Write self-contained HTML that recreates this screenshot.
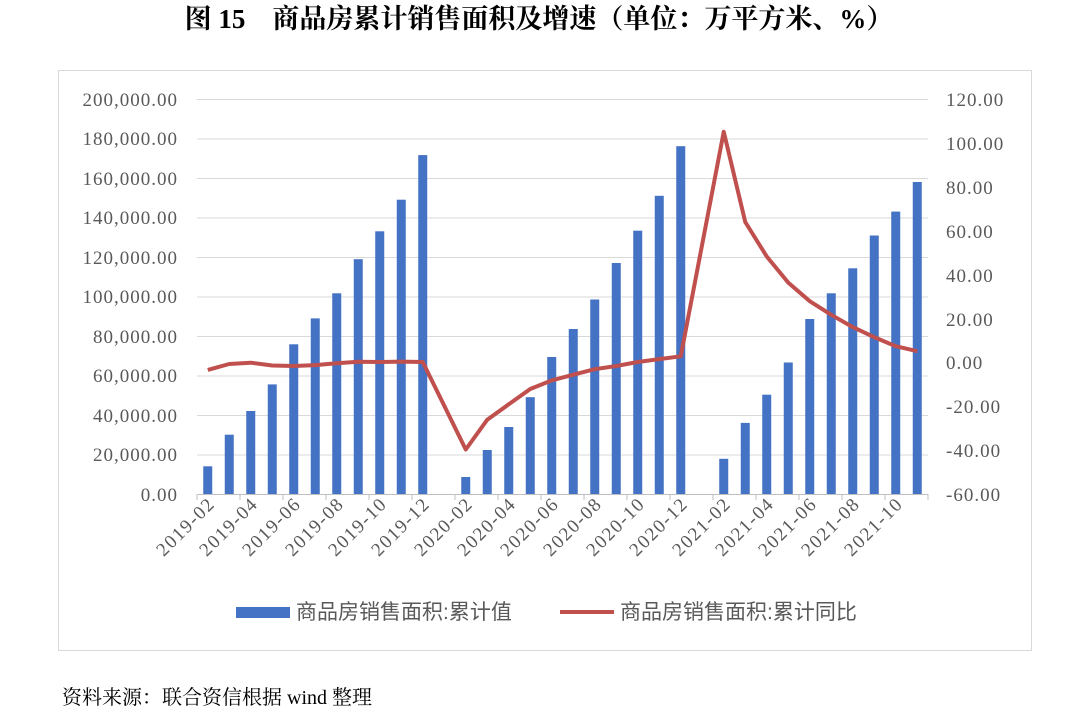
<!DOCTYPE html>
<html><head><meta charset="utf-8"><style>
body{margin:0;background:#fff;width:1080px;height:716px;overflow:hidden}
svg{display:block}
</style></head><body>
<svg width="1080" height="716" xmlns="http://www.w3.org/2000/svg">
<text x="539" y="28" text-anchor="middle" font-family="Liberation Serif, Noto Serif CJK SC, serif" font-size="27" font-weight="bold" fill="#000">图 15　商品房累计销售面积及增速（单位：万平方米、%）</text>
<rect x="58.5" y="70.5" width="973" height="580" fill="none" stroke="#d9d9d9"/>
<g stroke="#d9d9d9" stroke-width="1">
<line x1="197" x2="928" y1="99.5" y2="99.5"/><line x1="197" x2="928" y1="139" y2="139"/><line x1="197" x2="928" y1="178.5" y2="178.5"/><line x1="197" x2="928" y1="218" y2="218"/><line x1="197" x2="928" y1="257.5" y2="257.5"/><line x1="197" x2="928" y1="297" y2="297"/><line x1="197" x2="928" y1="336.5" y2="336.5"/><line x1="197" x2="928" y1="376" y2="376"/><line x1="197" x2="928" y1="415.5" y2="415.5"/><line x1="197" x2="928" y1="455" y2="455"/>
<line x1="197" x2="928" y1="494.5" y2="494.5" stroke="#bfbfbf"/>
</g>
<g stroke="#bfbfbf">
<line x1="197" x2="197" y1="494" y2="500"/><line x1="240" x2="240" y1="494" y2="500"/><line x1="283" x2="283" y1="494" y2="500"/><line x1="326" x2="326" y1="494" y2="500"/><line x1="369" x2="369" y1="494" y2="500"/><line x1="412" x2="412" y1="494" y2="500"/><line x1="455" x2="455" y1="494" y2="500"/><line x1="498" x2="498" y1="494" y2="500"/><line x1="541" x2="541" y1="494" y2="500"/><line x1="584" x2="584" y1="494" y2="500"/><line x1="627" x2="627" y1="494" y2="500"/><line x1="670" x2="670" y1="494" y2="500"/><line x1="713" x2="713" y1="494" y2="500"/><line x1="756" x2="756" y1="494" y2="500"/><line x1="799" x2="799" y1="494" y2="500"/><line x1="842" x2="842" y1="494" y2="500"/><line x1="885" x2="885" y1="494" y2="500"/><line x1="928" x2="928" y1="494" y2="500"/>
</g>
<g font-family="Liberation Serif, serif" font-size="19" letter-spacing="1" fill="#595959" text-anchor="end">
<text x="178" y="106">200,000.00</text><text x="178" y="145">180,000.00</text><text x="178" y="185">160,000.00</text><text x="178" y="224">140,000.00</text><text x="178" y="264">120,000.00</text><text x="178" y="303">100,000.00</text><text x="178" y="343">80,000.00</text><text x="178" y="382">60,000.00</text><text x="178" y="422">40,000.00</text><text x="178" y="461">20,000.00</text><text x="178" y="501">0.00</text>
</g>
<g font-family="Liberation Serif, serif" font-size="19" letter-spacing="1" fill="#595959" text-anchor="start">
<text x="946" y="106">120.00</text><text x="946" y="150">100.00</text><text x="946" y="194">80.00</text><text x="946" y="238">60.00</text><text x="946" y="282">40.00</text><text x="946" y="326">20.00</text><text x="946" y="369">0.00</text><text x="946" y="413">-20.00</text><text x="946" y="457">-40.00</text><text x="946" y="501">-60.00</text>
</g>
<g fill="#4472C4">
<rect x="203.25" y="466.3" width="9" height="27.7"/><rect x="224.75" y="434.7" width="9" height="59.3"/><rect x="246.25" y="411" width="9" height="83"/><rect x="267.75" y="384.4" width="9" height="109.6"/><rect x="289.25" y="344.3" width="9" height="149.7"/><rect x="310.75" y="318.4" width="9" height="175.6"/><rect x="332.25" y="293.3" width="9" height="200.7"/><rect x="353.75" y="259.2" width="9" height="234.8"/><rect x="375.25" y="231.3" width="9" height="262.7"/><rect x="396.75" y="199.7" width="9" height="294.3"/><rect x="418.25" y="155.1" width="9" height="338.9"/>
<rect x="461.25" y="477" width="9" height="17"/><rect x="482.75" y="450" width="9" height="44"/><rect x="504.25" y="427" width="9" height="67"/><rect x="525.75" y="397.2" width="9" height="96.8"/><rect x="547.25" y="357" width="9" height="137"/><rect x="568.75" y="329" width="9" height="165"/><rect x="590.25" y="299.5" width="9" height="194.5"/><rect x="611.75" y="263" width="9" height="231"/><rect x="633.25" y="230.7" width="9" height="263.3"/><rect x="654.75" y="195.8" width="9" height="298.2"/><rect x="676.25" y="146.2" width="9" height="347.8"/>
<rect x="719.25" y="458.8" width="9" height="35.2"/><rect x="740.75" y="422.9" width="9" height="71.1"/><rect x="762.25" y="394.7" width="9" height="99.3"/><rect x="783.75" y="362.5" width="9" height="131.5"/><rect x="805.25" y="319" width="9" height="175"/><rect x="826.75" y="293.3" width="9" height="200.7"/><rect x="848.25" y="268.3" width="9" height="225.7"/><rect x="869.75" y="235.5" width="9" height="258.5"/><rect x="891.25" y="211.6" width="9" height="282.4"/><rect x="912.75" y="182" width="9" height="312"/>
</g>
<polyline fill="none" stroke="#C0504D" stroke-width="4" stroke-linejoin="round" points="207.75,369.9 229.25,364 250.75,362.7 272.25,365.5 293.75,366 315.25,365.1 336.75,363.3 358.25,361.8 379.75,362 401.25,361.6 422.75,362 465.75,449.5 487.25,419.7 508.75,404.3 530.25,389 551.75,380.4 573.25,374.7 594.75,369.2 616.25,366 637.75,362 659.25,359.1 680.75,356.3 723.75,131.8 745.25,222 766.75,256.5 788.25,282.6 809.75,301.2 831.25,314.8 852.75,327.1 874.25,337.2 895.75,346.2 917.25,351.2"/>
<g font-family="Liberation Serif, serif" font-size="19" letter-spacing="1.5" fill="#595959" text-anchor="end">
<text transform="translate(216,505) rotate(-45)">2019-02</text><text transform="translate(259,505) rotate(-45)">2019-04</text><text transform="translate(302,505) rotate(-45)">2019-06</text><text transform="translate(345,505) rotate(-45)">2019-08</text><text transform="translate(388,505) rotate(-45)">2019-10</text><text transform="translate(431,505) rotate(-45)">2019-12</text><text transform="translate(474,505) rotate(-45)">2020-02</text><text transform="translate(517,505) rotate(-45)">2020-04</text><text transform="translate(560,505) rotate(-45)">2020-06</text><text transform="translate(603,505) rotate(-45)">2020-08</text><text transform="translate(646,505) rotate(-45)">2020-10</text><text transform="translate(689,505) rotate(-45)">2020-12</text><text transform="translate(732,505) rotate(-45)">2021-02</text><text transform="translate(775,505) rotate(-45)">2021-04</text><text transform="translate(818,505) rotate(-45)">2021-06</text><text transform="translate(861,505) rotate(-45)">2021-08</text><text transform="translate(904,505) rotate(-45)">2021-10</text>
</g>
<rect x="236" y="607" width="54" height="11" fill="#4472C4"/>
<text x="296" y="619" font-family="Liberation Sans, Noto Sans CJK SC, sans-serif" font-size="21" fill="#595959">商品房销售面积:累计值</text>
<line x1="560" x2="614" y1="612" y2="612" stroke="#C0504D" stroke-width="4"/>
<text x="620" y="619" font-family="Liberation Sans, Noto Sans CJK SC, sans-serif" font-size="21" fill="#595959">商品房销售面积:累计同比</text>
<text x="62" y="704" font-family="Liberation Serif, Noto Serif CJK SC, serif" font-size="20" fill="#000">资料来源：联合资信根据 wind 整理</text>
</svg>
</body></html>
